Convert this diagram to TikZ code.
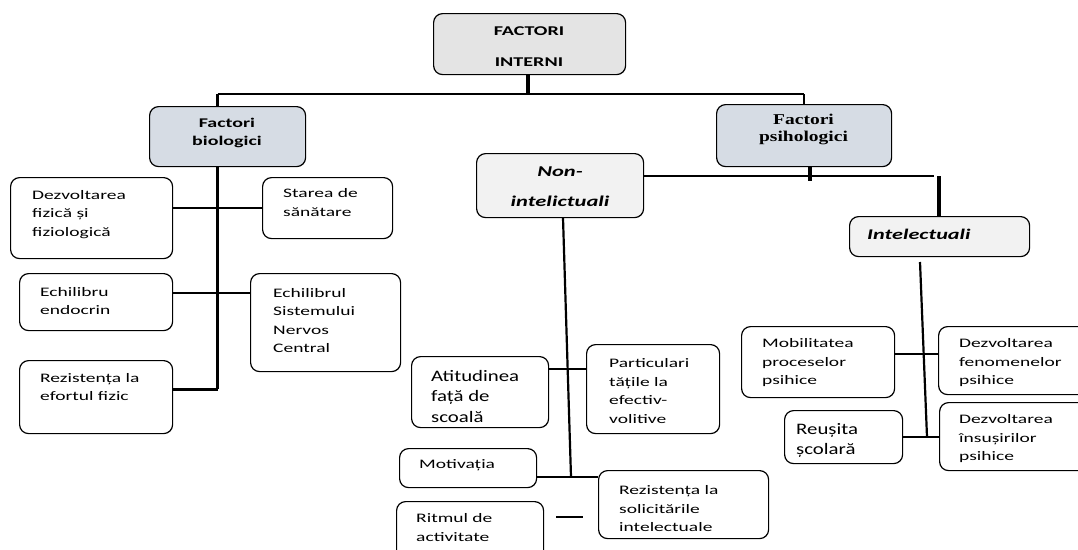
\documentclass[tikz,border=0pt]{standalone}
\usepackage{fontspec}
\setmainfont{Carlito}[FakeStretch=1.5]
\newfontfamily\bigf{Carlito}[FakeStretch=1.3]
\newfontfamily\tnr{Liberation Serif}[FakeStretch=1.3]
\definecolor{topgray}{HTML}{E4E4E4}
\definecolor{bluegray}{HTML}{D6DCE4}
\definecolor{lightgray}{HTML}{F2F2F2}
\tikzset{
  boxbase/.style={draw=black, line width=1.2pt, rounded corners=9pt, inner sep=0pt, rectangle},
  plainbox/.style={boxbase, fill=white},
  topbox/.style={boxbase, fill=topgray},
  catbox/.style={boxbase, fill=bluegray},
  subbox/.style={boxbase, fill=lightgray},
  txt/.style={inner sep=0pt, font=\fontsize{13}{18.5}\selectfont},
  bigtxt/.style={inner sep=0pt, font=\bigf\fontsize{16}{20.5}\selectfont},
  thin/.style={line width=1.3pt},
  mid/.style={line width=2.2pt},
  thick/.style={line width=3.6pt},
}
% #1 name, #2 box style, #3 x1, #4 y1, #5 x2, #6 y2, #7 text x, #8 first baseline, #9 lines
\newcommand\lbox[9]{%
  \node[#2, minimum width={#5-#3}, minimum height={#6-#4}, anchor=north west] (#1) at (#3,#4) {};
  \node[txt, anchor=base west] (#1t) at (#7,#8) {\parbox[t]{160pt}{\raggedright #9}};
}
\newcommand\lboxbig[9]{%
  \node[#2, minimum width={#5-#3}, minimum height={#6-#4}, anchor=north west] (#1) at (#3,#4) {};
  \node[bigtxt, anchor=base west] (#1t) at (#7,#8) {\parbox[t]{160pt}{\raggedright #9}};
}
\begin{document}
\begin{tikzpicture}[x=1pt,y=-1pt]
\clip (0,0) rectangle (1078,549);
\fill[white] (0,0) rectangle (1078,549);

% ---------- top level ----------
\node[topbox, minimum width=192, minimum height=61, anchor=north west] (fi) at (433,13) {};
\node[txt, anchor=base, font=\bfseries\fontsize{13.4}{31}\selectfont] (fit) at (529,35)
  {\parbox[t]{180pt}{\centering FACTORI\\INTERNI}};

\node[catbox, minimum width=156, minimum height=60, anchor=north west] (fb) at (149,106) {};
\node[txt, anchor=base, font=\bfseries\fontsize{13.3}{18}\selectfont] (fbt) at (227,127.5)
  {\parbox[t]{150pt}{\centering Factori\\biologici}};

\node[catbox, minimum width=175, minimum height=62, anchor=north west] (fp) at (716,104) {};
\node[txt, anchor=base, font=\tnr\bfseries\fontsize{15}{17}\selectfont] (fpt) at (803.5,124.5)
  {\parbox[t]{170pt}{\centering Factori\\psihologici}};

\node[subbox, minimum width=167, minimum height=64, anchor=north west] (ni) at (476,153) {};
\node[txt, anchor=base, font=\bfseries\itshape\fontsize{15}{30}\selectfont] (nit) at (560,176)
  {\parbox[t]{160pt}{\centering Non-\\intelictuali}};

\node[subbox, minimum width=180, minimum height=40, anchor=north west] (in) at (849,216) {};
\node[txt, anchor=base west, font=\bfseries\itshape\fontsize{14.8}{18}\selectfont] (int) at (867,239.5)
  {Intelectuali};

% ---------- biological ----------
\lbox{dez}{plainbox}{10}{177}{172}{258}{32}{199}{Dezvoltarea\\fizică și\\fiziologică}
\lbox{sta}{plainbox}{262}{177}{392}{238}{283}{197.5}{Starea de\\sănătare}
\lbox{endo}{plainbox}{19}{273}{172}{330}{40}{296}{Echilibru\\endocrin}
\lbox{snc}{plainbox}{250}{273}{400}{371}{273}{297}{Echilibrul\\Sistemului\\Nervos\\Central}
\lbox{rez}{plainbox}{19}{360}{172}{433}{40}{382}{Rezistența la\\efortul fizic}

% ---------- non-intellectual ----------
\lboxbig{ati}{plainbox}{411}{356}{548}{427}{431}{381}{Atitudinea\\față de\\scoală}
\lbox{par}{plainbox}{586}{344}{719}{433}{609}{367.5}{Particulari\\tățile la\\efectiv-\\volitive}
\lbox{mot}{plainbox}{399}{448}{536}{487}{419}{468.5}{Motivația}
\lbox{sol}{plainbox}{598}{470}{768}{538}{619}{494.5}{Rezistența la\\solicitările\\intelectuale}
\lbox{rit}{plainbox}{396}{501}{543}{560}{416}{522.5}{Ritmul de\\activitate}

% ---------- intellectual ----------
\lbox{mob}{plainbox}{741}{326}{894}{397}{762}{347.5}{Mobilitatea\\proceselor\\psihice}
\lbox{dfe}{plainbox}{938}{326}{1090}{394}{959}{347.5}{Dezvoltarea\\fenomenelor\\psihice}
\lboxbig{reu}{plainbox}{784}{410}{902}{463}{796}{434}{Reușita\\școlară}
\lbox{dins}{plainbox}{939}{402}{1090}{470}{959}{423.5}{Dezvoltarea\\însușirilor\\psihice}

% ---------- junction coordinates ----------
\coordinate (hL) at (217.5,94);
\coordinate (hR) at (804,94);
\coordinate (tb) at (217.5,389);
\coordinate (yS) at (0,208);
\coordinate (yE) at (0,293);
\coordinate (niTop) at (563,218);
\coordinate (niBot) at (571,477);
\coordinate (yA) at (0,369);
\coordinate (inTop) at (920,262);
\coordinate (inBot) at (927,437);
\coordinate (yM) at (0,354);
\coordinate (pstub) at (810,181);
\coordinate (yN) at (0,176);
\coordinate (rj) at (934,176);
\coordinate (rv) at (939,176);
\coordinate (dashA) at (556,517);
\coordinate (dashB) at (583,517);

% ---------- connectors ----------
\draw[thick] (fi.south -| 528,0) -- (528,94);
\draw[mid] (hL) -- (hR);
\draw[mid] (hL) -- (hL |- fb.north);
\draw[mid] (hR) -- (hR |- fp.north);

\draw[thick] (hL |- fb.south) -- (tb);
\draw[line width=3pt] (tb) -- (tb -| rez.east);
\draw[thin] (dez.east |- yS) -- (sta.west |- yS);
\draw[thin] (endo.east |- yE) -- (snc.west |- yE);

\draw[thick] (pstub |- fp.south) -- (pstub);
\draw[mid] (ni.east |- yN) -- (rj);
\draw[thick] (rv) -- (rv |- in.north);

\draw[mid] (niTop) -- (niBot);
\draw[thin] (ati.east |- yA) -- (par.west |- yA);
\draw[mid] (mot.east |- niBot) -- (sol.west |- niBot);
\draw[mid] (dashA) -- (dashB);

\draw[mid] (inTop) -- (inBot);
\draw[thin] (mob.east |- yM) -- (dfe.west |- yM);
\draw[thin] (reu.east |- inBot) -- (dins.west |- inBot);
\end{tikzpicture}
\end{document}
